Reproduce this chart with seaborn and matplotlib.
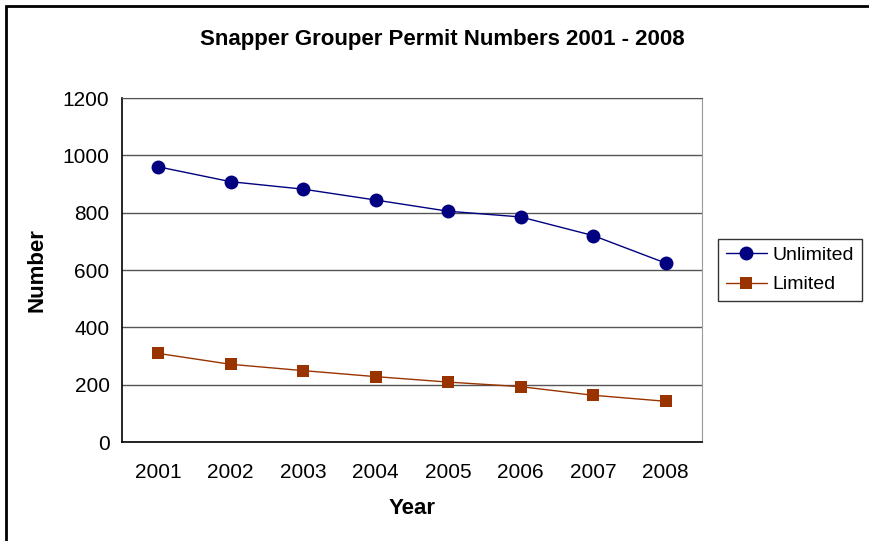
import numpy as np
import pandas as pd
import matplotlib
matplotlib.use("Agg")
import matplotlib.pyplot as plt
import seaborn as sns
from matplotlib.patches import Rectangle

years = ["2001", "2002", "2003", "2004", "2005", "2006", "2007", "2008"]
unlimited = [960, 908, 882, 844, 805, 785, 720, 624]
limited = [309, 271, 249, 228, 209, 193, 163, 142]

sns.set_style("white")
plt.rcParams["font.family"] = ["Liberation Sans", "DejaVu Sans"]
plt.rcParams["text.color"] = "black"
plt.rcParams["axes.labelcolor"] = "black"
plt.rcParams["xtick.color"] = "black"
plt.rcParams["ytick.color"] = "black"

df = pd.DataFrame({
    "pos": list(range(len(years))) * 2,
    "Number": unlimited + limited,
    "Series": ["Unlimited"] * len(years) + ["Limited"] * len(years),
})

fig = plt.figure(figsize=(8.69, 5.41), dpi=100)
ax = fig.add_axes([122 / 869, 1 - 442 / 541, 580 / 869, 344 / 541])

sns.lineplot(data=df, x="pos", y="Number", hue="Series", style="Series",
             palette={"Unlimited": "#000080", "Limited": "#993300"},
             markers={"Unlimited": "o", "Limited": "s"},
             dashes=False, markersize=10, markeredgewidth=0, linewidth=1.0,
             ax=ax, legend=False)
for ln in ax.lines:
    if ln.get_marker() == "s":
        ln.set_markersize(8.5)

ax.set_xlim(-0.5, len(years) - 0.5)
ax.set_ylim(0, 1200)
ax.set_yticks(range(0, 1201, 200))
ax.yaxis.grid(True, color="#555555", linewidth=1)
ax.set_axisbelow(True)

ax.set_xticks(np.arange(len(years)))
ax.set_xticklabels(years)
ax.set_xticks(np.arange(-0.5, len(years)), minor=True)
ax.tick_params(axis="x", which="major", length=0, pad=15, labelsize=15)
ax.tick_params(axis="x", which="minor", length=6, width=1, color="black", direction="out")
ax.tick_params(axis="y", length=6, width=1, color="black", direction="out", labelsize=15, pad=3)

for s in ["left", "bottom"]:
    ax.spines[s].set_color("black")
    ax.spines[s].set_linewidth(1.2)
ax.spines["top"].set_color("#555555")
ax.spines["right"].set_color("#999999")

ax.set_xlabel("Year", fontsize=16, fontweight="bold", labelpad=12)
ax.set_ylabel("Number", fontsize=16, fontweight="bold", labelpad=11)
fig.text(442 / 869, 1 - 40 / 541, "Snapper Grouper Permit Numbers 2001 - 2008",
         ha="center", va="center", fontsize=16, fontweight="bold")

handles = [
    plt.Line2D([], [], color="#000080", marker="o", markersize=10, markeredgewidth=0, linewidth=1.0),
    plt.Line2D([], [], color="#993300", marker="s", markersize=8.5, markeredgewidth=0, linewidth=1.0),
]
leg = fig.legend(handles, ["Unlimited", "Limited"], loc="center left",
                 bbox_to_anchor=(718 / 869, 1 - 270 / 541), fontsize=14,
                 frameon=True, fancybox=False, edgecolor="black", borderpad=0.4,
                 handlelength=2.1, handletextpad=0.3, labelspacing=0.6, borderaxespad=0)
leg.get_frame().set_linewidth(1)

fig.patches.append(Rectangle((6 / 869, -0.1), 1.2, 1 - 6 / 541 + 0.1, transform=fig.transFigure,
                             fill=False, edgecolor="black", linewidth=2))

fig.savefig("out.png", dpi=100)
